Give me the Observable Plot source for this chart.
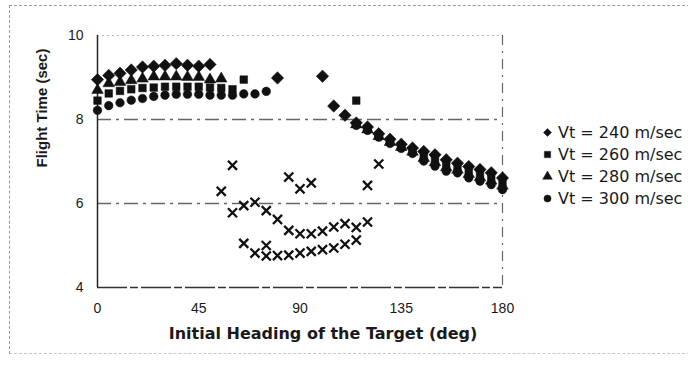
<!DOCTYPE html>
<html><head><meta charset="utf-8">
<script src="https://cdn.jsdelivr.net/npm/d3@7"></script>
<script src="https://cdn.jsdelivr.net/npm/@observablehq/plot@0.6"></script>
<style>
body{margin:0;background:#fff;}
#wrap{position:relative;width:688px;height:370px;overflow:hidden;background:#fff;}
#frame{position:absolute;left:9px;top:5px;width:700px;height:347px;border-top:1.5px dashed #9a9a9a;border-left:1.5px dashed #9a9a9a;border-bottom:1.5px dashed #c8c8c8;pointer-events:none;}
#legend{position:absolute;left:540px;top:121px;color:#1a1a1a;}
#legend .lg-swatches{font-size:16px !important;font-family:"DejaVu Sans",sans-serif !important;color:#1a1a1a;}
#legend .lg-swatch{height:22px;padding-bottom:0 !important;white-space:nowrap;}
#legend .lg-swatch svg{margin-right:3px !important;}
g[aria-label="x-title"] text{letter-spacing:1.2px;}
</style></head><body><div id="wrap"><div id="chart"></div><div id="legend"></div><div id="frame"></div></div>
<script>
// Initial heading of the target (deg)
const heading = [0,5,10,15,20,25,30,35,40,45,50,55,60,65,70,75,80,85,90,95,100,105,110,115,120,125,130,135,140,145,150,155,160,165,170,175,180];
const seriesLabels = ["Vt = 240 m/sec","Vt = 260 m/sec","Vt = 280 m/sec","Vt = 300 m/sec"];
const seriesSymbols = ["diamond2","square","triangle","circle"];
// Flight time (sec) per series, null where no marker is shown
const vt240 = [8.95,9.05,9.10,9.18,9.25,9.27,9.29,9.33,9.29,9.27,9.31,null,null,null,null,null,8.99,null,null,null,9.03,8.32,8.10,7.92,7.82,7.66,7.53,7.41,7.32,7.24,7.16,7.04,6.96,6.88,6.81,6.73,6.61];
const vt260 = [8.45,8.62,8.68,8.72,8.75,8.76,8.78,8.78,8.78,8.78,8.76,8.75,8.72,8.95,null,null,null,null,null,null,null,null,null,8.45,7.78,7.62,7.49,7.37,7.27,7.15,7.07,6.95,6.87,6.79,6.71,6.63,6.51];
const vt280 = [8.70,8.86,8.89,8.93,8.97,9.02,9.02,9.02,9.01,9.01,8.95,8.97,null,null,null,null,null,null,null,null,null,null,null,7.88,7.76,7.60,7.46,7.34,7.23,7.08,6.98,6.86,6.80,6.70,6.62,6.54,6.42];
const vt300 = [8.22,8.33,8.40,8.46,8.50,8.55,8.58,8.60,8.60,8.60,8.58,8.58,8.58,8.61,8.61,8.67,null,null,null,null,null,null,null,7.86,7.74,7.58,7.43,7.31,7.19,7.01,6.89,6.77,6.73,6.61,6.53,6.45,6.33];
// Points in the dip region (drawn as x marks)
const dipHeading = [55,60,60,65,65,70,70,75,75,75,80,80,85,85,85,90,90,90,95,95,95,100,100,105,105,110,110,115,115,120,120,125];
const dipTime = [6.29,6.91,5.78,5.95,5.05,6.03,4.82,5.83,5.00,4.75,5.62,4.76,6.63,5.36,4.77,6.35,5.28,4.82,6.49,5.28,4.86,5.34,4.90,5.44,4.94,5.52,5.03,5.43,5.13,6.43,5.56,6.94];
const xTicks = [0,45,90,135,180];
const yTicks = [4,6,8,10];
const xTitle = "Initial Heading of the Target (deg)";
const yTitle = "Flight Time (sec)";

const seriesValues = [vt240, vt260, vt280, vt300];
const rows = [];
seriesLabels.forEach((name, k) => heading.forEach((h, i) => {
  const v = seriesValues[k][i];
  if (v != null) rows.push({heading: h, time: v, series: name});
}));
const dips = dipHeading.map((h, i) => ({heading: h, time: dipTime[i]}));
const markerSize = name => name === seriesLabels[0] ? 5.6 : 4.3;

const chart = Plot.plot({
  width: 688, height: 370,
  marginLeft: 97, marginRight: 186, marginTop: 35, marginBottom: 83,
  style: {fontFamily: '"Liberation Sans", Arial, sans-serif', fontSize: "14px", color: "#1a1a1a", background: "transparent"},
  x: {domain: [0, 180], ticks: xTicks, tickSize: 0, tickPadding: 16, label: null, tickFormat: "d"},
  y: {domain: [4, 10], ticks: yTicks, tickSize: 0, tickPadding: 14, label: null, tickFormat: "d"},
  symbol: {domain: seriesLabels, range: seriesSymbols},
  r: {type: "identity"},
  marks: [
    Plot.ruleY([10], {stroke: "#aaa", strokeDasharray: "2,3", strokeOpacity: 0.8}),
    Plot.ruleY([8, 6], {stroke: "#666", strokeWidth: 1.5, strokeDasharray: "14,5,3,5"}),
    Plot.ruleX([180], {stroke: "#666", strokeWidth: 1.2, strokeDasharray: "10,6,2,6"}),
    Plot.ruleY([4], {stroke: "#333", strokeWidth: 1.5, strokeDasharray: "30,3,8,3"}),
    Plot.ruleX([0], {stroke: "#222", strokeWidth: 1.5}),
    Plot.dot(dips, {x: "heading", y: "time", symbol: "times", r: 4.2, fill: "none", stroke: "#111", strokeWidth: 2.3}),
    Plot.dot(rows, {x: "heading", y: "time", symbol: "series", r: d => markerSize(d.series), fill: "#111", stroke: "#111", strokeWidth: 0.5}),
    Plot.text([xTitle], {text: d => d, frameAnchor: "bottom", dx: 23, dy: 51, fontSize: 16, fontWeight: "bold", fontFamily: '"DejaVu Sans", sans-serif', fill: "#1a1a1a", ariaLabel: "x-title"}),
    Plot.text([yTitle], {text: d => d, frameAnchor: "left", rotate: -90, dx: -55, dy: 6, fontSize: 15, fontWeight: "bold", fontFamily: '"Liberation Sans", Arial, sans-serif', fill: "#1a1a1a"})
  ]
});
document.getElementById("chart").append(chart);

const legend = Plot.legend({
  symbol: {domain: seriesLabels, range: seriesSymbols},
  fill: "#111", stroke: "#111", strokeWidth: 0.5, r: 3.8, columns: 1, className: "lg", label: null
});
document.getElementById("legend").append(legend);
</script>
</body></html>
